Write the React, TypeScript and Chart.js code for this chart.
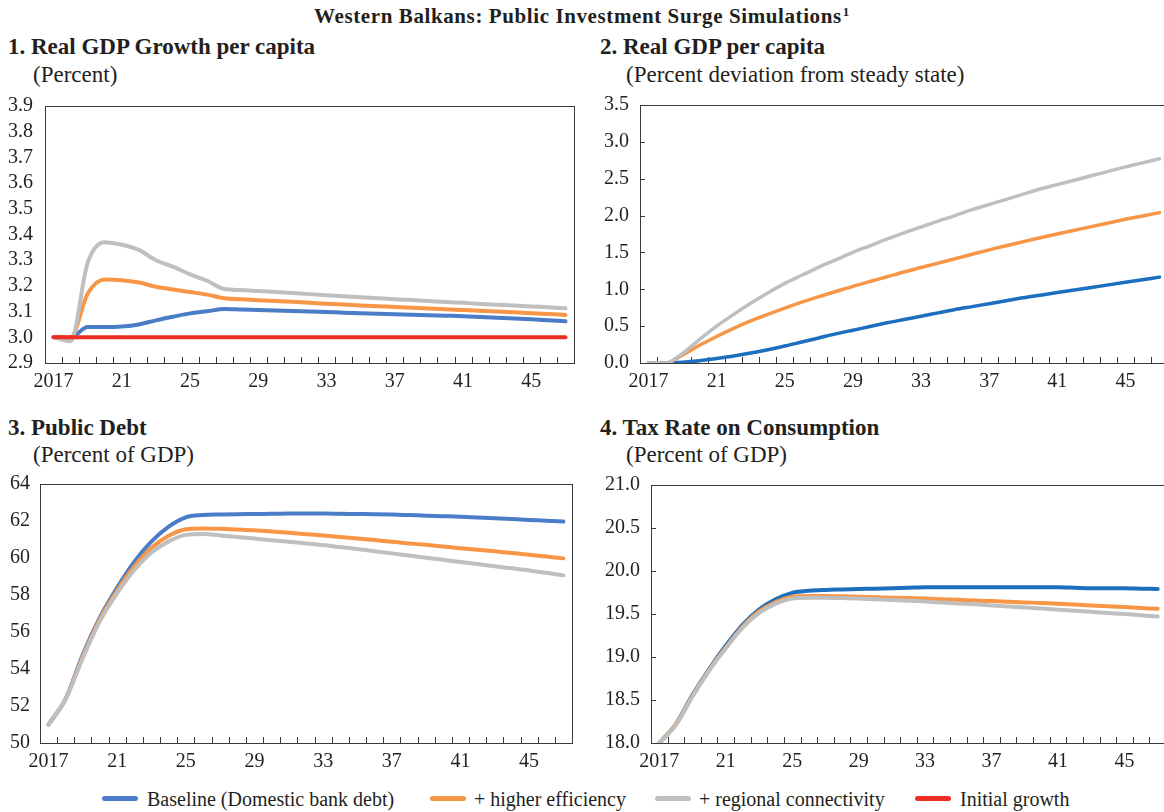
import React, { useEffect, useRef } from 'react';
import { Chart, registerables } from 'chart.js';

Chart.register(...registerables);

const years = ['2017','18','19','20','21','22','23','24','25','26','27','28','29','30','31','32','33','34','35','36','37','38','39','40','41','42','43','44','45','46','47'];
const shownYearTicks = ['2017','21','25','29','33','37','41','45'];

const seriesNames = ['Baseline (Domestic bank debt)', '+ higher efficiency', '+ regional connectivity', 'Initial growth'];

// 1. Real GDP Growth per capita (Percent)
const growthBaseline = [3.0,3.0,3.04,3.04,3.042,3.05,3.066,3.08,3.093,3.101,3.11,3.108,3.106,3.104,3.102,3.100,3.098,3.096,3.094,3.092,3.090,3.088,3.086,3.084,3.082,3.079,3.076,3.073,3.070,3.066,3.062];
const growthEfficiency = [3.0,3.0,3.17,3.225,3.222,3.213,3.197,3.186,3.176,3.166,3.152,3.148,3.144,3.141,3.138,3.134,3.131,3.128,3.124,3.121,3.118,3.115,3.112,3.109,3.106,3.103,3.100,3.097,3.094,3.091,3.087];
const growthConnectivity = [3.0,2.985,3.29,3.37,3.36,3.34,3.30,3.275,3.245,3.22,3.188,3.184,3.180,3.176,3.172,3.168,3.164,3.160,3.156,3.152,3.148,3.145,3.141,3.137,3.134,3.130,3.127,3.124,3.120,3.117,3.113];
const growthInitial = [3.0,3.0,3.0,3.0,3.0,3.0,3.0,3.0,3.0,3.0,3.0,3.0,3.0,3.0,3.0,3.0,3.0,3.0,3.0,3.0,3.0,3.0,3.0,3.0,3.0,3.0,3.0,3.0,3.0,3.0,3.0];

// 2. Real GDP per capita (Percent deviation from steady state)
const gdpBaseline = [0,0,0.01,0.03,0.06,0.095,0.135,0.18,0.23,0.285,0.34,0.395,0.445,0.495,0.545,0.59,0.635,0.68,0.725,0.765,0.805,0.845,0.885,0.92,0.955,0.99,1.025,1.06,1.095,1.13,1.165];
const gdpEfficiency = [0,0,0.11,0.24,0.36,0.47,0.57,0.66,0.745,0.825,0.90,0.97,1.04,1.105,1.17,1.235,1.295,1.355,1.415,1.475,1.535,1.59,1.645,1.70,1.75,1.80,1.85,1.90,1.95,1.995,2.04];
const gdpConnectivity = [0,0,0.13,0.32,0.50,0.66,0.81,0.95,1.08,1.19,1.30,1.40,1.50,1.59,1.68,1.765,1.845,1.925,2.00,2.08,2.15,2.22,2.29,2.36,2.42,2.48,2.54,2.60,2.66,2.715,2.77];

// 3. Public Debt (Percent of GDP)
const debtBaseline = [51.0,52.4,54.8,56.8,58.4,59.8,60.9,61.7,62.2,62.32,62.35,62.37,62.38,62.39,62.40,62.40,62.40,62.39,62.38,62.37,62.35,62.32,62.29,62.26,62.23,62.19,62.15,62.11,62.06,62.02,61.97];
const debtEfficiency = [51.0,52.4,54.7,56.7,58.25,59.55,60.55,61.2,61.55,61.6,61.58,61.54,61.5,61.43,61.36,61.29,61.22,61.14,61.05,60.97,60.88,60.79,60.71,60.62,60.53,60.44,60.36,60.27,60.18,60.08,59.98];
const debtConnectivity = [51.0,52.4,54.6,56.6,58.1,59.35,60.3,60.9,61.25,61.3,61.22,61.14,61.05,60.96,60.88,60.79,60.70,60.59,60.48,60.37,60.25,60.13,60.01,59.90,59.78,59.67,59.55,59.44,59.33,59.20,59.06];

// 4. Tax Rate on Consumption (Percent of GDP)
const taxBaseline = [18.0,18.22,18.56,18.86,19.13,19.37,19.55,19.67,19.745,19.77,19.78,19.785,19.79,19.795,19.80,19.805,19.81,19.81,19.81,19.81,19.81,19.81,19.81,19.81,19.81,19.805,19.80,19.80,19.80,19.795,19.79];
const taxEfficiency = [18.0,18.22,18.55,18.85,19.11,19.35,19.53,19.64,19.70,19.71,19.71,19.705,19.70,19.695,19.69,19.685,19.68,19.672,19.665,19.657,19.65,19.643,19.635,19.627,19.62,19.61,19.60,19.59,19.58,19.57,19.56];
const taxConnectivity = [18.0,18.21,18.54,18.84,19.10,19.34,19.51,19.62,19.68,19.69,19.69,19.685,19.68,19.671,19.662,19.653,19.645,19.634,19.623,19.612,19.60,19.588,19.575,19.563,19.55,19.537,19.525,19.512,19.50,19.485,19.47];

const BLUE_LIGHT = '#4A7CC8';
const BLUE_DARK = '#1C6FBE';
const ORANGE = '#F79646';
const GRAY = '#BFBFBF';
const RED = '#EE2D24';
const TEXT = '#231f20';
const FONT = '"Liberation Serif", "Times New Roman", serif';

const framePlugin = {
  id: 'frame',
  beforeDatasetsDraw(chart: any, _args: any, opts: any) {
    const { ctx, chartArea: a, scales } = chart;
    const x = scales.x;
    const y = scales.y;
    const left = Math.round(a.left);
    const bottom = Math.round(a.bottom);
    ctx.save();
    ctx.strokeStyle = '#3a3a3a';
    ctx.lineWidth = 1;
    ctx.strokeRect(left + 0.5, Math.round(a.top) + 0.5, Math.round(a.right - a.left), Math.round(a.bottom - a.top));
    ctx.beginPath();
    const n = x.ticks.length;
    for (let i = 0; i < n - 1; i++) {
      const px = Math.round((x.getPixelForTick(i) + x.getPixelForTick(i + 1)) / 2) + 0.5;
      ctx.moveTo(px, bottom);
      ctx.lineTo(px, bottom - 6);
    }
    if (opts && opts.yTicks) {
      for (let i = 1; i < y.ticks.length - 1; i++) {
        const py = Math.round(y.getPixelForTick(i)) + 0.5;
        ctx.moveTo(left, py);
        ctx.lineTo(left + 5, py);
      }
    }
    ctx.stroke();
    ctx.restore();
  },
};

function line(label: string, data: number[], color: string, order: number, width: number) {
  return {
    label,
    data,
    borderColor: color,
    backgroundColor: color,
    borderWidth: width,
    pointRadius: 0,
    fill: false,
    cubicInterpolationMode: 'monotone',
    borderCapStyle: 'round',
    borderJoinStyle: 'round',
    order,
  };
}

type PanelProps = {
  left: number; top: number; width: number; height: number;
  yWidth: number; yPad: number; padTop: number; padRight: number; xHeight: number;
  yMin: number; yMax: number; yStep: number; decimals: number; yTicks: boolean;
  datasets: any[];
};

function Panel(p: PanelProps) {
  const ref = useRef<HTMLCanvasElement>(null);
  useEffect(() => {
    const chart = new Chart(ref.current as HTMLCanvasElement, {
      type: 'line',
      data: { labels: years, datasets: p.datasets },
      options: {
        animation: false,
        responsive: false,
        maintainAspectRatio: false,
        layout: { padding: { top: p.padTop, right: p.padRight, left: 0, bottom: 0 } },
        plugins: { legend: { display: false }, tooltip: { enabled: false }, title: { display: false }, frame: { yTicks: p.yTicks } },
        scales: {
          x: {
            type: 'category',
            offset: true,
            grid: { display: false, drawTicks: false },
            border: { display: false },
            ticks: {
              autoSkip: false,
              maxRotation: 0,
              minRotation: 0,
              padding: 7,
              color: TEXT,
              font: { family: FONT, size: 20 },
              callback: (_v: any, index: number) => (shownYearTicks.includes(years[index]) ? years[index] : ''),
            },
            afterFit: (s: any) => { s.height = p.xHeight; },
          },
          y: {
            min: p.yMin,
            max: p.yMax,
            grid: { display: false, drawTicks: false },
            border: { display: false },
            ticks: {
              stepSize: p.yStep,
              autoSkip: false,
              maxTicksLimit: 20,
              padding: p.yPad,
              color: TEXT,
              font: { family: FONT, size: 20, lineHeight: 1 },
              callback: (v: any) => Number(v).toFixed(p.decimals),
            },
            afterFit: (s: any) => { s.width = p.yWidth; },
          },
        },
      } as any,
      plugins: [framePlugin],
    });
    return () => chart.destroy();
  }, []);
  return (
    <canvas
      ref={ref}
      width={p.width}
      height={p.height}
      style={{ position: 'absolute', left: p.left, top: p.top, width: p.width, height: p.height }}
    />
  );
}

const txt = (s: any) => ({ position: 'absolute' as const, whiteSpace: 'nowrap' as const, color: TEXT, fontFamily: FONT, ...s });

export default function App() {
  const legendItems = [
    { name: seriesNames[0], color: BLUE_LIGHT, lx: 102, tx: 147 },
    { name: seriesNames[1], color: ORANGE, lx: 430, tx: 474 },
    { name: seriesNames[2], color: GRAY, lx: 655, tx: 699 },
    { name: seriesNames[3], color: RED, lx: 915, tx: 960 },
  ];
  return (
    <div style={{ position: 'absolute', left: 0, top: 0, width: 1164, height: 812, overflow: 'hidden', background: '#fff' }}>
      <div style={txt({ left: 0, width: 1164, top: 5, textAlign: 'center', fontSize: 21, lineHeight: '22px', fontWeight: 'bold', letterSpacing: 0.6 })}>
        Western Balkans: Public Investment Surge Simulations
        <span style={{ fontSize: 13, position: 'relative', top: -7, marginLeft: 1 }}>1</span>
      </div>

      <div style={txt({ left: 8, top: 35, fontSize: 23, lineHeight: '23px', fontWeight: 'bold' })}>1. Real GDP Growth per capita</div>
      <div style={txt({ left: 33, top: 63, fontSize: 23, lineHeight: '23px' })}>(Percent)</div>
      <div style={txt({ left: 600, top: 35, fontSize: 23, lineHeight: '23px', fontWeight: 'bold' })}>2. Real GDP per capita</div>
      <div style={txt({ left: 626, top: 63, fontSize: 23, lineHeight: '23px' })}>(Percent deviation from steady state)</div>
      <div style={txt({ left: 8, top: 416, fontSize: 23, lineHeight: '23px', fontWeight: 'bold' })}>3. Public Debt</div>
      <div style={txt({ left: 33, top: 443, fontSize: 23, lineHeight: '23px' })}>(Percent of GDP)</div>
      <div style={txt({ left: 600, top: 416, fontSize: 23, lineHeight: '23px', fontWeight: 'bold' })}>4. Tax Rate on Consumption</div>
      <div style={txt({ left: 626, top: 443, fontSize: 23, lineHeight: '23px' })}>(Percent of GDP)</div>

      <Panel
        left={8} top={84} width={569} height={315}
        yWidth={37} yPad={12} padTop={14} padRight={3} xHeight={36}
        yMin={2.9} yMax={3.9} yStep={0.1} decimals={1} yTicks={false}
        datasets={[
          line(seriesNames[0], growthBaseline, BLUE_LIGHT, 3, 4),
          line(seriesNames[1], growthEfficiency, ORANGE, 2, 4),
          line(seriesNames[2], growthConnectivity, GRAY, 1, 4),
          line(seriesNames[3], growthInitial, RED, 0, 4),
        ]}
      />
      <Panel
        left={600} top={84} width={571} height={315}
        yWidth={40} yPad={11} padTop={14} padRight={3} xHeight={36}
        yMin={0} yMax={3.5} yStep={0.5} decimals={1} yTicks={true}
        datasets={[
          line(seriesNames[0], gdpBaseline, BLUE_DARK, 3, 3.5),
          line(seriesNames[1], gdpEfficiency, ORANGE, 2, 3.5),
          line(seriesNames[2], gdpConnectivity, GRAY, 1, 3.5),
        ]}
      />
      <Panel
        left={8} top={464} width={567} height={315}
        yWidth={32} yPad={10} padTop={14} padRight={3} xHeight={36}
        yMin={50} yMax={64} yStep={2} decimals={0} yTicks={false}
        datasets={[
          line(seriesNames[0], debtBaseline, BLUE_LIGHT, 3, 4),
          line(seriesNames[1], debtEfficiency, ORANGE, 2, 4),
          line(seriesNames[2], debtConnectivity, GRAY, 1, 4),
        ]}
      />
      <Panel
        left={600} top={464} width={569} height={315}
        yWidth={51} yPad={11} padTop={14} padRight={3} xHeight={36}
        yMin={18} yMax={21} yStep={0.5} decimals={1} yTicks={true}
        datasets={[
          line(seriesNames[0], taxBaseline, BLUE_DARK, 3, 4),
          line(seriesNames[1], taxEfficiency, ORANGE, 2, 4),
          line(seriesNames[2], taxConnectivity, GRAY, 1, 4),
        ]}
      />

      {legendItems.map((it) => (
        <React.Fragment key={it.name}>
          <div style={{ position: 'absolute', left: it.lx, top: 796, width: 36, height: 5, borderRadius: 2.5, background: it.color }} />
          <div style={txt({ left: it.tx, top: 788, fontSize: 20, lineHeight: '22px' })}>{it.name}</div>
        </React.Fragment>
      ))}
    </div>
  );
}
